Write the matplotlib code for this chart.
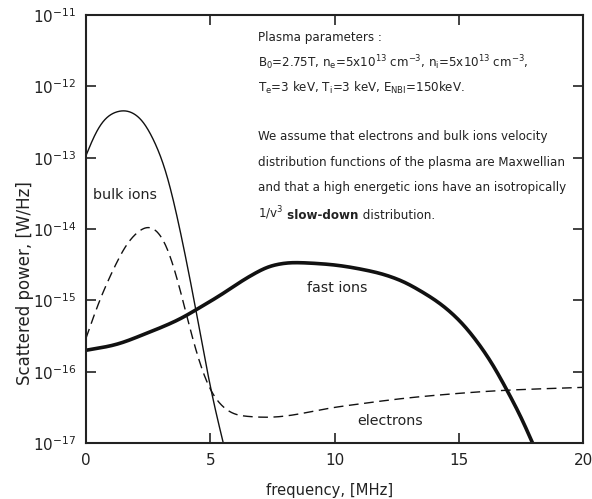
import numpy as np
import matplotlib
matplotlib.use('Agg')
import matplotlib.pyplot as plt
from matplotlib.ticker import LogLocator, NullLocator

plt.rcParams['font.family'] = 'DejaVu Sans'
plt.rcParams['mathtext.default'] = 'regular'

# Curves (frequency in MHz, log10 of scattered power in W/Hz)
bulk_f = [0.0, 0.5, 1.0, 1.57, 2.2, 2.7, 3.2, 3.52, 3.87, 4.44, 5.04, 5.51]
bulk_logp = [-12.97, -12.56, -12.38, -12.33, -12.44, -12.73, -13.15, -13.59, -14.15, -15.16, -16.30, -16.98]

elec_f = [0.0, 0.54, 1.08, 1.75, 2.55, 3.09, 3.5, 3.9, 4.3, 4.7, 5.04, 5.65, 6.05, 7.3,
          10.2, 13.47, 16.94, 20.0]
elec_logp = [-15.53, -15.0, -14.58, -14.15, -13.95, -14.11, -14.48, -15.0, -15.56, -16.02, -16.30,
             -16.54, -16.61, -16.64, -16.49, -16.35, -16.26, -16.22]

fast_f = [0.0, 1.1, 2.45, 3.79, 4.44, 5.4, 6.6, 7.5, 8.3, 9.57, 11.58, 12.66, 13.47, 14.27, 15.08,
          15.89, 16.42, 16.94, 17.5, 17.97]
fast_logp = [-15.70, -15.63, -15.46, -15.26, -15.13, -14.93, -14.66, -14.51, -14.47, -14.49, -14.60,
             -14.72, -14.87, -15.05, -15.30, -15.65, -15.93, -16.26, -16.63, -17.0]


def pchip(fx, fy, step=0.02, sigma=0.25):
    # shape-preserving cubic through the read points, then a light gaussian smoothing
    x = np.asarray(fx, float)
    y = np.asarray(fy, float)
    h = np.diff(x)
    d = np.diff(y) / h
    m = np.zeros_like(y)
    for i in range(1, len(x) - 1):
        if d[i - 1] * d[i] > 0:
            w1 = 2 * h[i] + h[i - 1]
            w2 = h[i] + 2 * h[i - 1]
            m[i] = (w1 + w2) / (w1 / d[i - 1] + w2 / d[i])
    m[0], m[-1] = d[0], d[-1]
    n = int(round((x[-1] - x[0]) / step)) + 1
    xs = np.linspace(x[0], x[-1], n)
    idx = np.clip(np.searchsorted(x, xs) - 1, 0, len(h) - 1)
    t = (xs - x[idx]) / h[idx]
    h00 = 2 * t**3 - 3 * t**2 + 1
    h10 = t**3 - 2 * t**2 + t
    h01 = -2 * t**3 + 3 * t**2
    h11 = t**3 - t**2
    ys = h00 * y[idx] + h10 * h[idx] * m[idx] + h01 * y[idx + 1] + h11 * h[idx] * m[idx + 1]

    k = int(3 * sigma / step)
    kern = np.exp(-0.5 * (np.arange(-k, k + 1) * step / sigma) ** 2)
    kern /= kern.sum()
    # odd reflection at both ends keeps the end slopes
    left = 2 * ys[0] - ys[k:0:-1]
    right = 2 * ys[-1] - ys[-2:-k - 2:-1]
    pad = np.concatenate([left, ys, right])
    ys = np.convolve(pad, kern, mode='valid')
    return xs, 10 ** ys


fig = plt.figure(figsize=(5.92, 4.99), dpi=100)
ax = fig.add_axes([0.1453, 0.1122, 0.8395, 0.8578])

x, y = pchip(bulk_f, bulk_logp)
ax.plot(x, y, color='#111111', lw=1.0)
x, y = pchip(elec_f, elec_logp)
ax.plot(x, y, color='#111111', lw=1.0, dashes=(7, 4))
x, y = pchip(fast_f, fast_logp)
ax.plot(x, y, color='#111111', lw=2.6)

ax.set_yscale('log')
ax.set_xlim(0, 20)
ax.set_ylim(1e-17, 1e-11)
ax.set_xticks([0, 5, 10, 15, 20])
ax.yaxis.set_major_locator(LogLocator(base=10, numticks=10))
ax.yaxis.set_minor_locator(NullLocator())
ax.tick_params(which='major', direction='in', length=7, width=1.2, top=True, right=True,
               labelsize=11, pad=7, color='#222222', labelcolor='#222222')
for s in ax.spines.values():
    s.set_linewidth(1.5)
    s.set_color('#222222')

ax.set_xlabel('frequency, [MHz]', fontsize=10.6, color='#222222', va='center')
ax.xaxis.set_label_coords(0.49, -0.11)
ax.set_ylabel('Scattered power, [W/Hz]', fontsize=12, color='#222222', va='center')
ax.yaxis.set_label_coords(-0.123, 0.374)

ax.text(0.28, 10 ** -13.52, 'bulk ions', fontsize=10.3, va='center', ha='left', color='#222222')
ax.text(8.9, 10 ** -14.83, 'fast ions', fontsize=10.3, va='center', ha='left', color='#222222')
ax.text(10.93, 10 ** -16.69, 'electrons', fontsize=10.3, va='center', ha='left', color='#222222')

tx = 0.346
fs = 8.6
lines = [
    (38, 'Plasma parameters :'),
    (63, 'B$_0$=2.75T, n$_e$=5x10$^{13}$ cm$^{-3}$, n$_i$=5x10$^{13}$ cm$^{-3}$,'),
    (88, 'T$_e$=3 keV, T$_i$=3 keV, E$_{NBI}$=150keV.'),
    (137, 'We assume that electrons and bulk ions velocity'),
    (163, 'distribution functions of the plasma are Maxwellian'),
    (188, 'and that a high energetic ions have an isotropically'),
]
for ypx, s in lines:
    ax.text(tx, 1 - (ypx - 15) / 428, s, transform=ax.transAxes, fontsize=fs,
            va='center', ha='left', color='#222222')

t1 = ax.text(tx, 1 - (213 - 15) / 428, '1/v$^3$', transform=ax.transAxes, fontsize=fs,
             va='center', ha='left', color='#222222')
t2 = ax.annotate(' slow-down', xy=(1, 0), xycoords=t1, fontsize=fs, fontweight='bold',
                 va='bottom', ha='left', color='#222222')
ax.annotate(' distribution.', xy=(1, 0), xycoords=t2, fontsize=fs, va='bottom', ha='left',
            color='#222222')

fig.savefig('out.png', dpi=100)
